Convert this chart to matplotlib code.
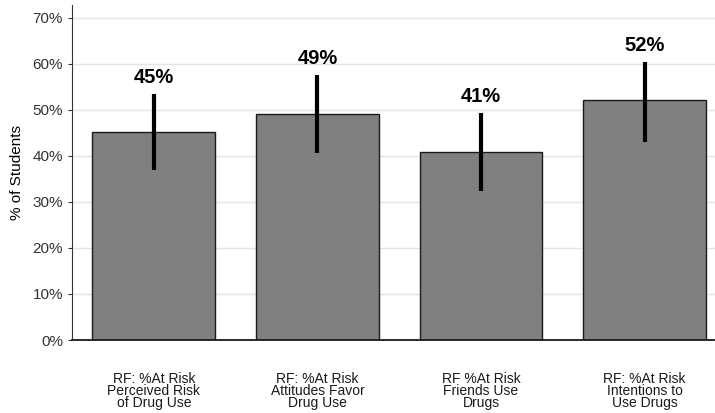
import numpy as np
import matplotlib
matplotlib.use("Agg")
import matplotlib.pyplot as plt
from matplotlib.ticker import FuncFormatter

categories = [
    "RF: %At Risk\nPerceived Risk\nof Drug Use",
    "RF: %At Risk\nAttitudes Favor\nDrug Use",
    "RF %At Risk\nFriends Use\nDrugs",
    "RF: %At Risk\nIntentions to\nUse Drugs",
]
values = [45.3, 49.2, 40.9, 52.1]
err_low = [37.0, 40.7, 32.4, 43.0]
err_high = [53.5, 57.6, 49.3, 60.4]
labels = ["45%", "49%", "41%", "52%"]

plt.rcParams['font.family'] = ['Liberation Sans', 'DejaVu Sans']

fig = plt.figure(figsize=(7.15, 4.13), dpi=100)
ax = fig.add_axes([72 / 715, 73 / 413, 1 - 72 / 715, 335 / 413])

x = np.arange(len(categories))
ax.bar(x, values, width=0.75, color="#808080", edgecolor="#1a1a1a", linewidth=1.0, zorder=2)
for xi, lo, hi, lab in zip(x, err_low, err_high, labels):
    ax.plot([xi, xi], [lo, hi], color="black", linewidth=3.0, solid_capstyle="butt", zorder=3)
    ax.text(xi, hi + 1.5, lab, ha="center", va="bottom", fontsize=14.5, fontweight="bold")

ax.set_xlim(-0.5, 3.43)
ax.set_ylim(0, 72.8)
ax.set_yticks(np.arange(0, 71, 10))
ax.yaxis.set_major_formatter(FuncFormatter(lambda v, p: f"{v:.0f}%"))
ax.grid(axis="y", color="#e5e5e5", linewidth=1.0, zorder=0)
ax.set_axisbelow(True)
for s in ["top", "right"]:
    ax.spines[s].set_visible(False)
ax.spines["left"].set_color("#333333")
ax.spines["bottom"].set_color("#1a1a1a")
ax.spines["bottom"].set_linewidth(1.3)
ax.tick_params(axis="y", labelsize=11, colors="#333333", length=3)
ax.tick_params(axis="x", length=0, pad=23)
ax.set_xticks(x)
ax.set_xticklabels(categories, fontsize=10, linespacing=0.8, color="#1a1a1a")
ax.set_ylabel("% of Students", fontsize=11, labelpad=6)

fig.savefig("out.png", dpi=100)
